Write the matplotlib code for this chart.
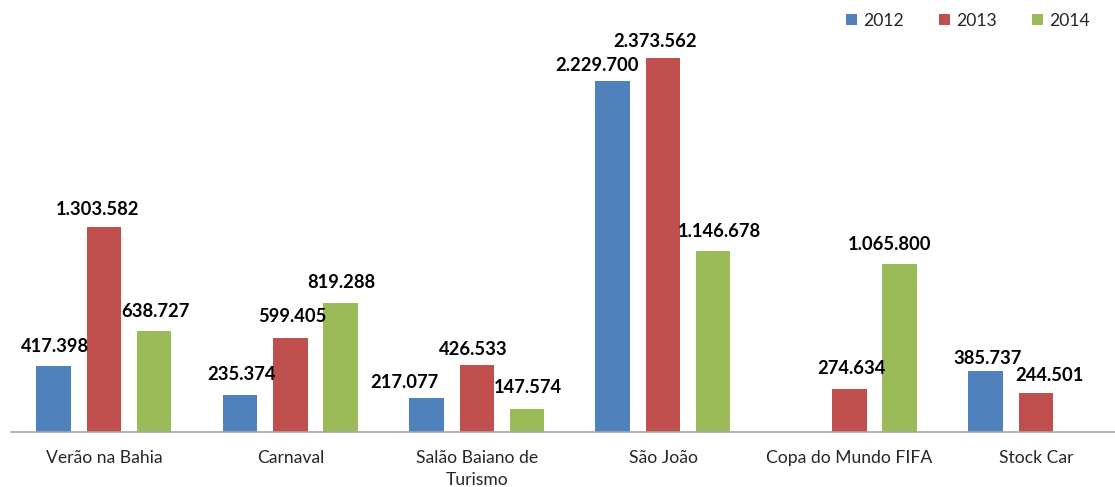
import numpy as np
import matplotlib
matplotlib.use("Agg")
import matplotlib.pyplot as plt

categories = ["Verão na Bahia", "Carnaval", "Salão Baiano de\nTurismo", "São João",
              "Copa do Mundo FIFA", "Stock Car"]
years = ["2012", "2013", "2014"]
v2012 = [417398, 235374, 217077, 2229700, np.nan, 385737]
v2013 = [1303582, 599405, 426533, 2373562, 274634, 244501]
v2014 = [638727, 819288, 147574, 1146678, 1065800, np.nan]
series = [v2012, v2013, v2014]
colors = ["#4F81BD", "#C0504D", "#9BBB59"]

# label nudges (pixels): (dx, dy above bar top) per series per category
nudges = [
    [(1.5, 20), (2, 20), (-22, 15), (-16, 15.5), (0, 20), (2, 13)],
    [(-6, 17), (2, 21), (-4, 15), (-8, 16), (2, 20.5), (13.5, 17.5)],
    [(1.5, 20), (1, 20), (1.5, 21), (6.5, 20), (-10, 20), (0, 20)],
]

plt.rcParams['font.family'] = ['Lato', 'DejaVu Sans']
W, H = 1115, 487
fig = plt.figure(figsize=(W / 100, H / 100), dpi=100)
ax = fig.add_axes([10.8 / W, 55 / H, 1118.4 / W, 432 / H])

x = np.arange(len(categories))
offs = [-0.271, 0.0, 0.268]
width = 0.185
for s, (vals, col, off, lab) in enumerate(zip(series, colors, offs, years)):
    ax.bar(x + off, vals, width, color=col, label=lab, zorder=2)
    for i, v in enumerate(vals):
        if np.isnan(v):
            continue
        dx, dy = nudges[s][i]
        txt = f"{int(v):,}".replace(",", ".")
        ax.annotate(txt, (x[i] + off, v), xytext=(dx, dy), textcoords='offset pixels',
                    ha='center', va='center', fontsize=13.2, fontweight='bold', color='black')

ax.set_xlim(-0.5, len(categories) - 0.5)
ax.set_ylim(0, 2.741e6)
ax.set_xticks(x)
ax.set_xticklabels(categories, fontsize=12.6, color='#262626', linespacing=1.45)
ax.tick_params(axis='x', length=0, pad=13)
ax.set_yticks([])
for sp in ['top', 'right', 'left']:
    ax.spines[sp].set_visible(False)
ax.spines['bottom'].set_color('#A6A6A6')
ax.spines['bottom'].set_linewidth(1.2)

fig.legend(loc='upper left', bbox_to_anchor=(842 / W, 1 - 9 / H), ncol=3, frameon=False,
           fontsize=12.6, handlelength=0.65, handleheight=0.65, handletextpad=0.35,
           columnspacing=2.0, borderaxespad=0, borderpad=0.2)
for t in fig.legends[0].get_texts():
    t.set_color('#262626')

fig.savefig("out.png", dpi=100)
